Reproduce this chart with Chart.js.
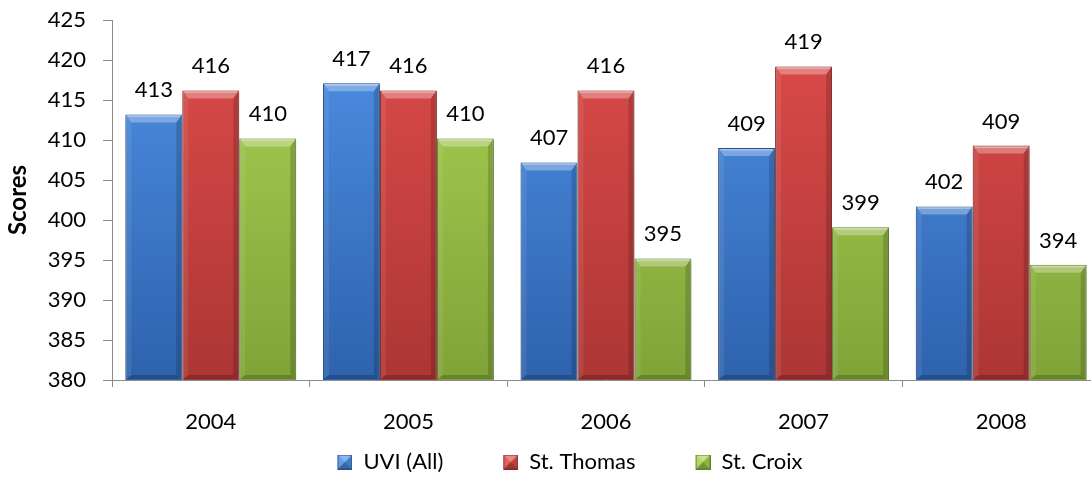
<!DOCTYPE html>
<html>
<head>
<meta charset="utf-8">
<script src="https://cdn.jsdelivr.net/npm/chart.js@4"></script>
<style>
  body { margin: 0; overflow: hidden; background: #fff; }
  #wrap { width: 1100px; height: 483px; }
</style>
</head>
<body>
<div id="wrap"><canvas id="scoreChart" width="1100" height="483"></canvas></div>
<script>
const years = ['2004', '2005', '2006', '2007', '2008'];
const uviAll = [413.2, 417.1, 407.2, 409.0, 401.7];
const stThomas = [416.2, 416.2, 416.2, 419.2, 409.3];
const stCroix = [410.2, 410.2, 395.2, 399.1, 394.4];
const yTicks = [380, 385, 390, 395, 400, 405, 410, 415, 420, 425];
const seriesNames = ['UVI (All)', 'St. Thomas', 'St. Croix'];
const seriesData = [uviAll, stThomas, stCroix];

const palette = [
    { top: '#4f91e6', bottom: '#2e62ad', edge: '#24508f' },
    { top: '#de4c4a', bottom: '#ac3634', edge: '#86282a' },
    { top: '#abd254', bottom: '#80a338', edge: '#60802a' }
];

Chart.defaults.font.family = 'Lato';
Chart.defaults.color = '#000';

function barFill(idx) {
    return (c) => {
        const area = c.chart.chartArea;
        if (!area) return palette[idx].top;
        const g = c.chart.ctx.createLinearGradient(0, area.top, 0, area.bottom);
        g.addColorStop(0, palette[idx].top);
        g.addColorStop(1, palette[idx].bottom);
        return g;
    };
}

// legend marker: small bevelled square, placed at the right end of a wider
// transparent image so the legend items get Excel-like spacing
const markLead = 40;
function legendMark(idx) {
    const s = 15, m = s / 2;
    const c = document.createElement('canvas');
    c.width = s + markLead; c.height = s;
    const g = c.getContext('2d');
    g.translate(markLead, 0);
    g.fillStyle = palette[idx].top;
    g.fillRect(0, 0, s, s);
    const tri = (pts, col) => {
        g.beginPath();
        g.moveTo(pts[0][0], pts[0][1]);
        pts.slice(1).forEach(p => g.lineTo(p[0], p[1]));
        g.closePath();
        g.fillStyle = col;
        g.fill();
    };
    tri([[0, 0], [s, 0], [m, m]], 'rgba(255,255,255,0.35)');
    tri([[0, 0], [0, s], [m, m]], 'rgba(255,255,255,0.12)');
    tri([[s, 0], [s, s], [m, m]], 'rgba(0,0,0,0.15)');
    tri([[0, s], [s, s], [m, m]], 'rgba(0,0,0,0.3)');
    g.strokeStyle = palette[idx].edge;
    g.lineWidth = 1;
    g.strokeRect(0.5, 0.5, s - 1, s - 1);
    return c;
}

const marks = [legendMark(0), legendMark(1), legendMark(2)];

// bevel look + value labels on top of the bars
const bevelPlugin = {
    id: 'bevel',
    beforeDatasetsDraw(chart) {
        const ctx = chart.ctx;
        ctx.save();
        ctx.shadowColor = 'rgba(0,0,0,0.3)';
        ctx.shadowBlur = 4;
        ctx.shadowOffsetY = 3;
    },
    afterDatasetsDraw(chart) {
        const ctx = chart.ctx;
        ctx.restore();
        const area = chart.chartArea;
        const poly = (pts, col) => {
            ctx.beginPath();
            ctx.moveTo(pts[0][0], pts[0][1]);
            pts.slice(1).forEach(p => ctx.lineTo(p[0], p[1]));
            ctx.closePath();
            ctx.fillStyle = col;
            ctx.fill();
        };
        chart.data.datasets.forEach((ds, i) => {
            chart.getDatasetMeta(i).data.forEach((bar, j) => {
                const { x, y, base, width } = bar.getProps(['x', 'y', 'base', 'width'], true);
                const l = x - width / 2 + 1, r = x + width / 2 - 1, t = y + 1;
                const b = Math.min(base, area.bottom) - 1;
                const bt = 7, bs = 5, bb = 4;
                ctx.save();
                poly([[l, t], [r, t], [r - bs, t + bt], [l + bs, t + bt]], 'rgba(255,255,255,0.3)');
                poly([[l, t], [l + bs, t + bt], [l + bs, b - bb], [l, b]], 'rgba(255,255,255,0.08)');
                poly([[r, t], [r, b], [r - bs, b - bb], [r - bs, t + bt]], 'rgba(0,0,0,0.16)');
                poly([[l, b], [l + bs, b - bb], [r - bs, b - bb], [r, b]], 'rgba(0,0,0,0.2)');
                ctx.fillStyle = 'rgba(255,255,255,0.35)';
                ctx.fillRect(l + 1, t, r - l - 2, 1.5);
                ctx.restore();

                ctx.save();
                ctx.font = '22px Lato';
                ctx.fillStyle = '#000';
                ctx.textAlign = 'center';
                ctx.textBaseline = 'alphabetic';
                ctx.fillText(String(Math.round(ds.data[j])), x, y - 17);
                ctx.restore();
            });
        });
    }
};

new Chart(document.getElementById('scoreChart'), {
    type: 'bar',
    data: {
        labels: years,
        datasets: seriesData.map((d, i) => ({
            label: seriesNames[i],
            data: d,
            backgroundColor: barFill(i),
            borderColor: palette[i].edge,
            borderWidth: 1,
            categoryPercentage: 0.865,
            barPercentage: 1
        }))
    },
    options: {
        responsive: false,
        animation: false,
        layout: { padding: 0 },
        plugins: {
            tooltip: { enabled: false },
            legend: {
                position: 'bottom',
                labels: {
                    usePointStyle: true,
                    pointStyleWidth: 15 + markLead,
                    padding: 20,
                    font: { size: 22 },
                    color: '#000',
                    generateLabels: (chart) => chart.data.datasets.map((ds, i) => ({
                        text: ds.label,
                        pointStyle: marks[i],
                        fillStyle: palette[i].top,
                        strokeStyle: 'transparent',
                        lineWidth: 0,
                        hidden: false,
                        datasetIndex: i,
                        fontColor: '#000'
                    }))
                }
            }
        },
        scales: {
            x: {
                grid: { drawOnChartArea: false, tickLength: 7, color: '#8c8c8c', offset: true },
                border: { color: '#8c8c8c' },
                ticks: { font: { size: 22 }, padding: 22, color: '#000' },
                afterFit: (s) => { s.height = 51; }
            },
            y: {
                min: 380,
                max: 425,
                afterBuildTicks: (s) => { s.ticks = yTicks.map(v => ({ value: v })); },
                grid: { drawOnChartArea: false, tickLength: 9, color: '#8c8c8c' },
                border: { color: '#8c8c8c' },
                ticks: { font: { size: 22 }, padding: 17, color: '#000' },
                title: {
                    display: true,
                    text: 'Scores',
                    font: { size: 24, weight: 'bold' },
                    color: '#000',
                    padding: { top: 4, bottom: 0 }
                },
                afterFit: (s) => { s.width = 112; s.paddingTop = 20; }
            }
        }
    },
    plugins: [bevelPlugin]
});
</script>
</body>
</html>
